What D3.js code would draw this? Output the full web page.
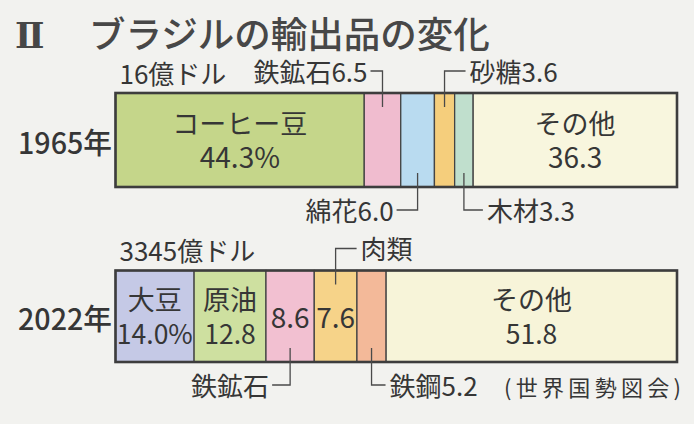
<!DOCTYPE html>
<html><head><meta charset="utf-8">
<script src="https://cdn.jsdelivr.net/npm/d3@7"></script>
<style>
html,body{margin:0;padding:0;background:#f2f2ef;}
svg{display:block;}
text{font-family:"Noto Sans CJK JP","Noto Sans",sans-serif;fill:#363636;}
</style></head>
<body>
<script>
// ---- data ----
const years = ["1965年", "2022年"];
const totals = ["16億ドル", "3345億ドル"];
const names1965 = ["コーヒー豆", "鉄鉱石", "綿花", "砂糖", "木材", "その他"];
const values1965 = [44.3, 6.5, 6.0, 3.6, 3.3, 36.3];
const names2022 = ["大豆", "原油", "鉄鉱石", "肉類", "鉄鋼", "その他"];
const values2022 = [14.0, 12.8, 8.6, 7.6, 5.2, 51.8];
const title = "ブラジルの輸出品の変化";
const source = "(世界国勢図会)";

// ---- styles / layout ----
const colors1965 = ["#c5d68a", "#f0bccf", "#b9dbf0", "#f5ce7c", "#c0dfcd", "#f8f6de"];
const colors2022 = ["#c5c9e6", "#cee0a0", "#f2c0d1", "#f6d389", "#f3b999", "#f7f4d9"];
// label mode per segment: "in2" two-line inside, "in1" value only inside, or leader {dir, side, arm}
const layout1965 = [
  {mode:"in2", pct:true},
  {mode:"lead", dir:"up", side:"left", arm:12},
  {mode:"lead", dir:"down", side:"left", arm:21},
  {mode:"lead", dir:"up", side:"right", arm:21},
  {mode:"lead", dir:"down", side:"right", arm:19},
  {mode:"in2"}
];
const layout2022 = [
  {mode:"in2", pct:true},
  {mode:"in2"},
  {mode:"in1", lead:{dir:"down", side:"left", arm:18}},
  {mode:"in1", lead:{dir:"up", side:"right", arm:21}},
  {mode:"lead", dir:"down", side:"right", arm:14},
  {mode:"in2"}
];

const W = 694, H = 424;
const svg = d3.select("body").append("svg").attr("width", W).attr("height", H);

const x = d3.scaleLinear().domain([0, 100]).range([115.5, 677]);
const barTop = {"1965年": 93, "2022年": 270.5};
const barH = {"1965年": 94, "2022年": 91.5};
const valFont = {"1965年": 28, "2022年": 26.5};

// baseline for a given visual center
const bl = (cy, fs) => cy + 0.37 * fs;

// Title
const t = svg.append("text").attr("x", 15).attr("y", bl(34, 36.5)).style("font-size", "36.5px").style("font-weight", 700).style("fill", "#474747");
t.append("tspan").text("Ⅱ").style("font-family", "'DejaVu Serif','Liberation Serif',serif").style("font-size", "35px");
t.append("tspan").attr("x", 89).text(title).style("font-weight", 500);

function drawBar(year, total, names, values, colors, lay) {
  const top = barTop[year], h = barH[year], bot = top + h;
  const cum = d3.cumsum(values);
  const segs = values.map((v, i) => ({name: names[i], v, x0: cum[i] - v, x1: cum[i], c: colors[i], lay: lay[i]}));
  const g = svg.append("g");
  g.selectAll("rect.seg").data(segs).join("rect").attr("class", "seg")
    .attr("x", d => x(d.x0)).attr("width", d => x(d.x1) - x(d.x0))
    .attr("y", top).attr("height", h).attr("fill", d => d.c)
    .attr("stroke", "#444").attr("stroke-width", 1.3);
  g.append("rect").attr("x", x(0)).attr("y", top).attr("width", x(100) - x(0)).attr("height", h)
    .attr("fill", "none").attr("stroke", "#3d3d3d").attr("stroke-width", 2.6);

  // year label
  svg.append("text").attr("x", 112).attr("y", bl(top + h / 2 + 3, 29)).attr("text-anchor", "end")
    .style("font-size", "29px").style("font-weight", 500)
    .attr("textLength", 94).attr("lengthAdjust", "spacingAndGlyphs").text(year);
  // total label
  svg.append("text").attr("x", x(0) + 4).attr("y", bl(top - 19, 26))
    .style("font-size", "26px").text(total);

  segs.forEach(d => {
    const cx = (x(d.x0) + x(d.x1)) / 2, cy = top + h / 2;
    const L = d.lay;
    const valTxt = d.v.toFixed(1) + (L.pct ? "%" : "");
    if (L.mode === "in2") {
      const vf = valFont[year];
      const tx = svg.append("text").attr("text-anchor", "middle");
      tx.append("tspan").attr("x", cx).attr("y", bl(cy - 16, 27)).style("font-size", "27px").text(d.name);
      tx.append("tspan").attr("x", cx).attr("y", bl(cy + 18, vf)).style("font-size", vf + "px").text(valTxt);
    }
    let lead = null, label = null;
    if (L.mode === "in1") {
      svg.append("text").attr("x", cx).attr("y", bl(cy + 1, 28)).attr("text-anchor", "middle")
        .style("font-size", "28px").text(valTxt);
      lead = L.lead; label = d.name;
    }
    if (L.mode === "lead") { lead = L; label = d.name + valTxt; }
    if (lead) {
      const y0 = lead.dir === "up" ? top + 14 : bot - 14;
      const y1 = lead.dir === "up" ? top - 22 : bot + 23;
      const x1 = lead.side === "left" ? cx - lead.arm : cx + lead.arm;
      svg.append("path").attr("d", d3.line()([[cx, y0], [cx, y1], [x1, y1]]))
        .attr("fill", "none").attr("stroke", "#4a4a4a").attr("stroke-width", 1.3);
      svg.append("text").attr("x", lead.side === "left" ? x1 - 3 : x1 + 4).attr("y", bl(y1 + 1, 26))
        .attr("text-anchor", lead.side === "left" ? "end" : "start")
        .style("font-size", "26px").text(label);
    }
  });
  return {top, bot};
}

drawBar(years[0], totals[0], names1965, values1965, colors1965, layout1965);
const b2 = drawBar(years[1], totals[1], names2022, values2022, colors2022, layout2022);

svg.append("text").attr("x", 504).attr("y", bl(b2.bot + 26, 22))
  .style("font-size", "22px").style("letter-spacing", "4.3px").text(source);
</script>
</body></html>
